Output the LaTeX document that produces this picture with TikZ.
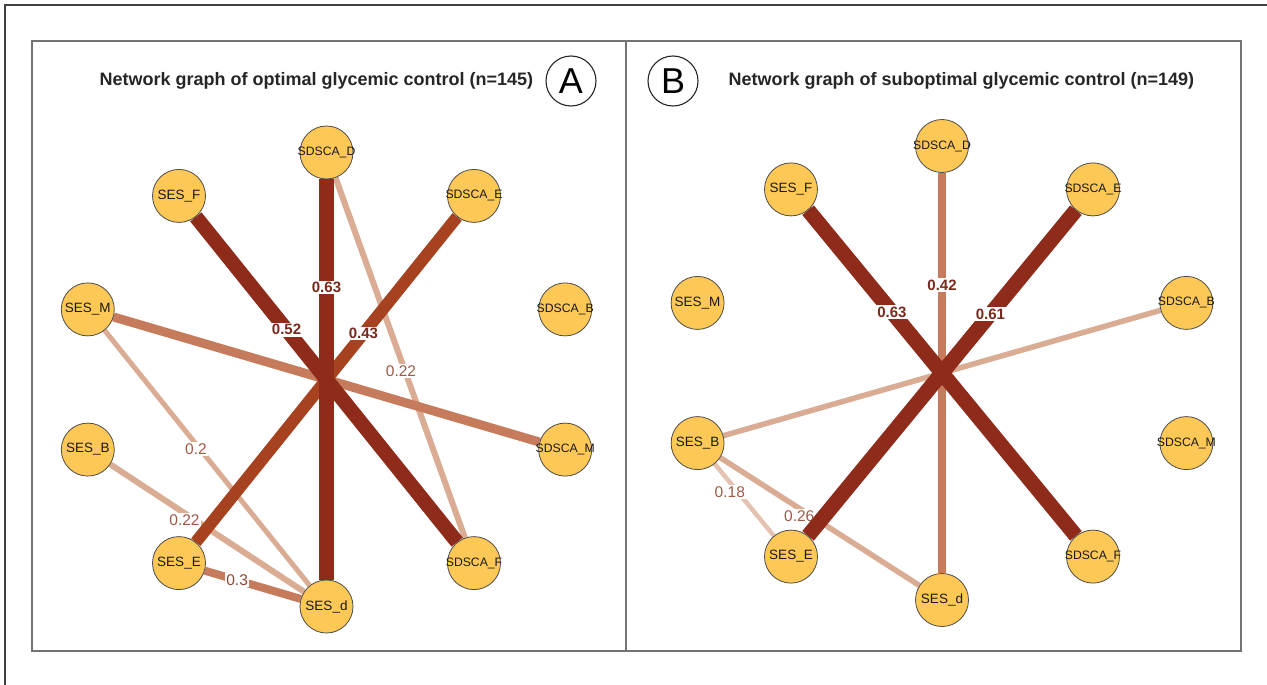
\documentclass[tikz,border=0pt]{standalone}
\usepackage{fontspec}
\setmainfont{Liberation Sans}
\pgfdeclarelayer{bg}
\pgfdeclarelayer{edges}
\pgfsetlayers{bg,edges,main}
\definecolor{nodefill}{RGB}{254,200,86}
\definecolor{edark}{RGB}{143,43,26}
\definecolor{erust}{RGB}{166,66,31}
\definecolor{emid}{RGB}{198,124,92}
\definecolor{elight}{RGB}{219,172,148}
\definecolor{elighter}{RGB}{229,195,178}
\definecolor{ldark}{RGB}{122,42,28}
\definecolor{lmid}{RGB}{140,70,52}
\definecolor{llight}{RGB}{157,90,70}
\newcommand\fitlab[1]{\makebox[0pt]{#1}}
\begin{document}
\begin{tikzpicture}[x=1pt,y=-1pt,
  vtx/.style={circle,draw=black!70,line width=0.8pt,fill=nodefill,minimum size=53pt,inner sep=0pt,text=black!90},
  ses/.style={vtx,font=\fontsize{13.5}{13.5}\selectfont},
  sds/.style={vtx,font=\fontsize{12.2}{12.2}\selectfont},
  elab/.style={fill=white,inner sep=1.5pt,text=llight,font=\fontsize{15.5}{15.5}\selectfont},
  blab/.style={fill=white,inner sep=1.5pt,text=ldark,font=\bfseries\fontsize{15}{15}\selectfont},
  panelframe/.style={draw=black!55,line width=1.3pt},
  title/.style={anchor=west,text=black!85,font=\bfseries\fontsize{18}{18}\selectfont},
  tag/.style={circle,draw=black!85,line width=1.1pt,minimum size=50pt,inner sep=0pt,font=\fontsize{36}{36}\selectfont}
]
\useasboundingbox (0,0) rectangle (1267,685);
\begin{pgfonlayer}{bg}
\fill[white] (0,0) rectangle (1267,685);
\end{pgfonlayer}
% frames
\draw[draw=black!75,line width=1.5pt] (1267,5) -- (5,5) -- (5,685);
\draw[panelframe] (32,41) rectangle (1241,651);
\draw[panelframe] (626,41) -- (626,651);
% titles
\node[title] (titleA) at (96,81) {Network graph of optimal glycemic control (n=145)};
\node[tag] (tagA) at (571,81) {A};
\node[tag] (tagB) at (673,81) {B};
\node[title] (titleB) at (725,81) {Network graph of suboptimal glycemic control (n=149)};
% panel A nodes
\node[sds] (aD)  at (326.5,152.5) {\fitlab{SDSCA\_D}};
\node[sds] (aE)  at (474,195.9)   {\fitlab{SDSCA\_E}};
\node[sds] (aSB) at (565.2,309.4) {\fitlab{SDSCA\_B}};
\node[sds] (aSM) at (565.2,449.6) {\fitlab{SDSCA\_M}};
\node[sds] (aSF) at (474,563.1)   {\fitlab{SDSCA\_F}};
\node[ses] (ad)  at (326.5,606.5) {\fitlab{SES\_d}};
\node[ses] (aSE) at (179,563.1)   {\fitlab{SES\_E}};
\node[ses] (aB)  at (87.8,449.6)  {\fitlab{SES\_B}};
\node[ses] (aM)  at (87.8,309.4)  {\fitlab{SES\_M}};
\node[ses] (aF)  at (179,195.9)   {\fitlab{SES\_F}};
% panel B nodes
\node[sds] (bD)  at (942,146)     {\fitlab{SDSCA\_D}};
\node[sds] (bE)  at (1093,189.4)  {\fitlab{SDSCA\_E}};
\node[sds] (bSB) at (1186.4,302.9){\fitlab{SDSCA\_B}};
\node[sds] (bSM) at (1186.4,443.1){\fitlab{SDSCA\_M}};
\node[sds] (bSF) at (1093,556.6)  {\fitlab{SDSCA\_F}};
\node[ses] (bd)  at (942,600)     {\fitlab{SES\_d}};
\node[ses] (bSE) at (791,556.6)   {\fitlab{SES\_E}};
\node[ses] (bB)  at (697.6,443.1) {\fitlab{SES\_B}};
\node[ses] (bM)  at (697.6,302.9) {\fitlab{SES\_M}};
\node[ses] (bF)  at (791,189.4)   {\fitlab{SES\_F}};
\begin{pgfonlayer}{edges}
% panel A edges (weakest first)
\draw[line width=5pt,elight] (aM) -- node[elab,pos=0.465,xshift=-4pt] (lA1) {0.2} (ad);
\draw[line width=6pt,elight] (aB) -- node[elab,pos=0.44,xshift=-11pt] (lA2) {0.22} (ad);
\draw[line width=6pt,elight] (aD) -- node[elab,pos=0.537,xshift=-4pt] (lA3) {0.22} (aSF);
\draw[line width=8pt,emid] (aSE) -- node[elab,text=lmid,pos=0.337] (lA4) {0.3} (ad);
\draw[line width=9pt,emid] (aM) -- (aSM);
\draw[line width=12pt,erust] (aE) -- node[blab,pos=0.359] (lA5) {0.43} (aSE);
\draw[line width=14.5pt,edark] (aF) -- node[blab,pos=0.347] (lA6) {0.52} (aSF);
\draw[line width=15pt,edark] (aD) -- node[blab,pos=0.27] (lA7) {0.63} (ad);
% panel B edges (weakest first)
\draw[line width=4.5pt,elighter] (bB) -- node[elab,pos=0.39,xshift=-8pt] (lB1) {0.18} (bSE);
\draw[line width=5.5pt,elight] (bB) -- node[elab,pos=0.457,xshift=-12pt] (lB2) {0.26} (bd);
\draw[line width=5.5pt,elight] (bSB) -- (bB);
\draw[line width=8pt,emid] (bD) -- node[blab,pos=0.28] (lB3) {0.42} (bd);
\draw[line width=15pt,edark] (bE) -- node[blab,pos=0.319] (lB4) {0.61} (bSE);
\draw[line width=15pt,edark] (bF) -- node[blab,pos=0.313] (lB5) {0.63} (bSF);
\end{pgfonlayer}
\end{tikzpicture}
\end{document}
